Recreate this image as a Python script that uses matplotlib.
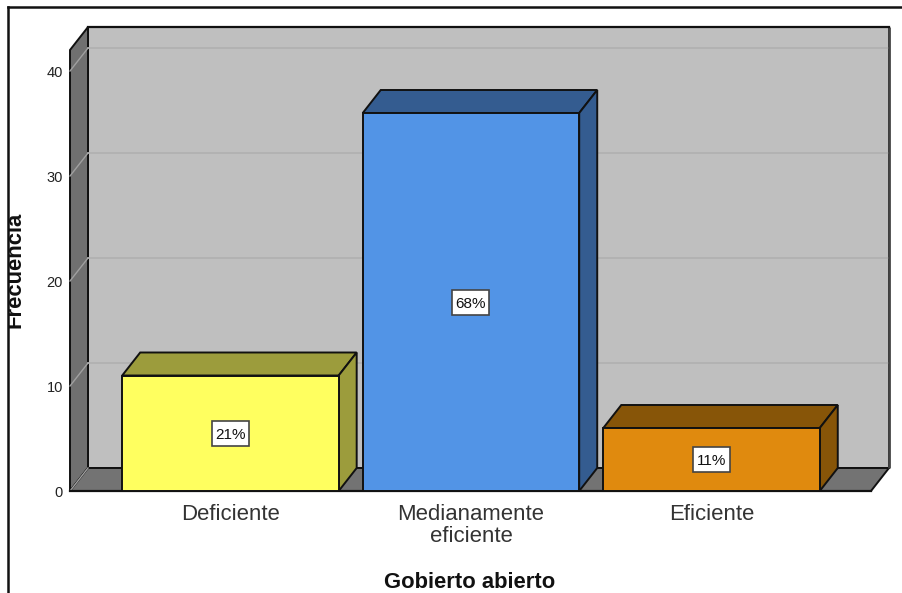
import matplotlib
matplotlib.use('Agg')
import matplotlib.pyplot as plt
from matplotlib.patches import Polygon, Rectangle
from matplotlib.transforms import offset_copy

categories = ['Deficiente', 'Medianamente\neficiente', 'Eficiente']
frecuencia = [11, 36, 6]
porcentajes = ['21%', '68%', '11%']
yticks = [0, 10, 20, 30, 40]

colores = ['#FFFF5F', '#5294E6', '#E08A0E']
oscuros = ['#9C9C3C', '#345C90', '#875508']

W, H = 902, 593
# plot box in pixels
left, right, top, bottom = 70, 871, 50, 491
# depth of the 3d effect, in pixels
depth_x, depth_y = 18, 23

plt.rcParams['font.family'] = ['Liberation Sans', 'DejaVu Sans']

fig = plt.figure(figsize=(W / 100, H / 100), dpi=100)
ax = fig.add_axes([left / W, 1 - bottom / H, (right - left) / W, (bottom - top) / H])

xmin, xmax = -0.667, 2.663
ymax = 42.0
ax.set_xlim(xmin, xmax)
ax.set_ylim(0, ymax)
# data units per pixel
ux = (xmax - xmin) / (right - left)
uy = ymax / (bottom - top)
dx = depth_x * ux
dy = depth_y * uy
ax.axis('off')


def poly(points, color, edge='#111111', lw=1.4, z=1):
    ax.add_patch(Polygon(points, closed=True, facecolor=color, edgecolor=edge,
                         linewidth=lw, zorder=z, clip_on=False, joinstyle='miter'))


# back wall, side wall, floor
poly([(xmin + dx, dy), (xmax + dx, dy), (xmax + dx, ymax + dy), (xmin + dx, ymax + dy)], '#BFBFBF', z=1)
poly([(xmin, 0), (xmin + dx, dy), (xmin + dx, ymax + dy), (xmin, ymax)], '#707070', z=1)
poly([(xmin, 0), (xmax, 0), (xmax + dx, dy), (xmin + dx, dy)], '#737373', z=1)
ax.plot([xmax + dx, xmax + dx], [dy, ymax + dy], color='#444444', lw=2, zorder=1.5, clip_on=False, solid_capstyle='butt')
ax.plot([xmin + dx, xmax + dx], [ymax + dy, ymax + dy], color='#111111', lw=1.6, zorder=1.5, clip_on=False)

# gridlines on the walls
for t in yticks:
    ax.plot([xmin, xmin + dx], [t, t + dy], color='#A0A0A0', lw=1.0, zorder=1.4, clip_on=False)
    if t > 0:
        ax.plot([xmin + dx, xmax + dx], [t + dy, t + dy], color='#B0B0B0', lw=1.2, zorder=1.4, clip_on=False)

# bars
width = 0.9
box_w, box_h = 37 * ux, 25 * uy
for i, v in enumerate(frecuencia):
    x0, x1 = i - width / 2, i + width / 2
    poly([(x0, v), (x1, v), (x1 + dx, v + dy), (x0 + dx, v + dy)], oscuros[i], z=3)
    poly([(x1, 0), (x1 + dx, dy), (x1 + dx, v + dy), (x1, v)], oscuros[i], z=3)
    ax.add_patch(Rectangle((x0, 0), width, v, facecolor=colores[i], edgecolor='#111111',
                           linewidth=1.4, zorder=4, clip_on=False))
    ax.add_patch(Rectangle((i - box_w / 2, v / 2 - box_h / 2), box_w, box_h, facecolor='white',
                           edgecolor='#444444', linewidth=1.2, zorder=5))
    ax.text(i, v / 2, porcentajes[i], ha='center', va='center_baseline', fontsize=11, color='#111111', zorder=6)

ax.plot([xmin, xmax], [0, 0], color='#111111', lw=1.6, zorder=3.5, clip_on=False)

# axis text
tick_trans = offset_copy(ax.transData, fig=fig, x=0, y=-1.5, units='points')
for t in yticks:
    ax.text(xmin - 7 * ux, t, str(t), ha='right', va='center', fontsize=10.5, color='#222222', transform=tick_trans)
for i, c in enumerate(categories):
    ax.annotate(c, (i, 0), xytext=(0, -9.5), textcoords='offset points', ha='center', va='top',
                fontsize=15.9, color='#333333', linespacing=1.08)

fig.text(15 / W, 1 - 270 / H, 'Frecuencia', rotation=90, ha='center', va='center', fontsize=15.8, fontweight='bold', color='#111111')
fig.text(470 / W, 1 - 582 / H, 'Gobierto abierto', ha='center', va='center', fontsize=15.8, fontweight='bold', color='#111111')

# frame of the pasted picture, it cuts the y label
fig.add_artist(Rectangle((0, 0), 8 / W, 1, transform=fig.transFigure, facecolor='white', edgecolor='none', zorder=10))
fig.add_artist(plt.Line2D([8 / W, 8 / W], [0, 1 - 7 / H], color='#111111', lw=1.8, zorder=11))
fig.add_artist(plt.Line2D([8 / W, 1], [1 - 7 / H, 1 - 7 / H], color='#111111', lw=1.8, zorder=11))

fig.savefig('out.png', dpi=100)
